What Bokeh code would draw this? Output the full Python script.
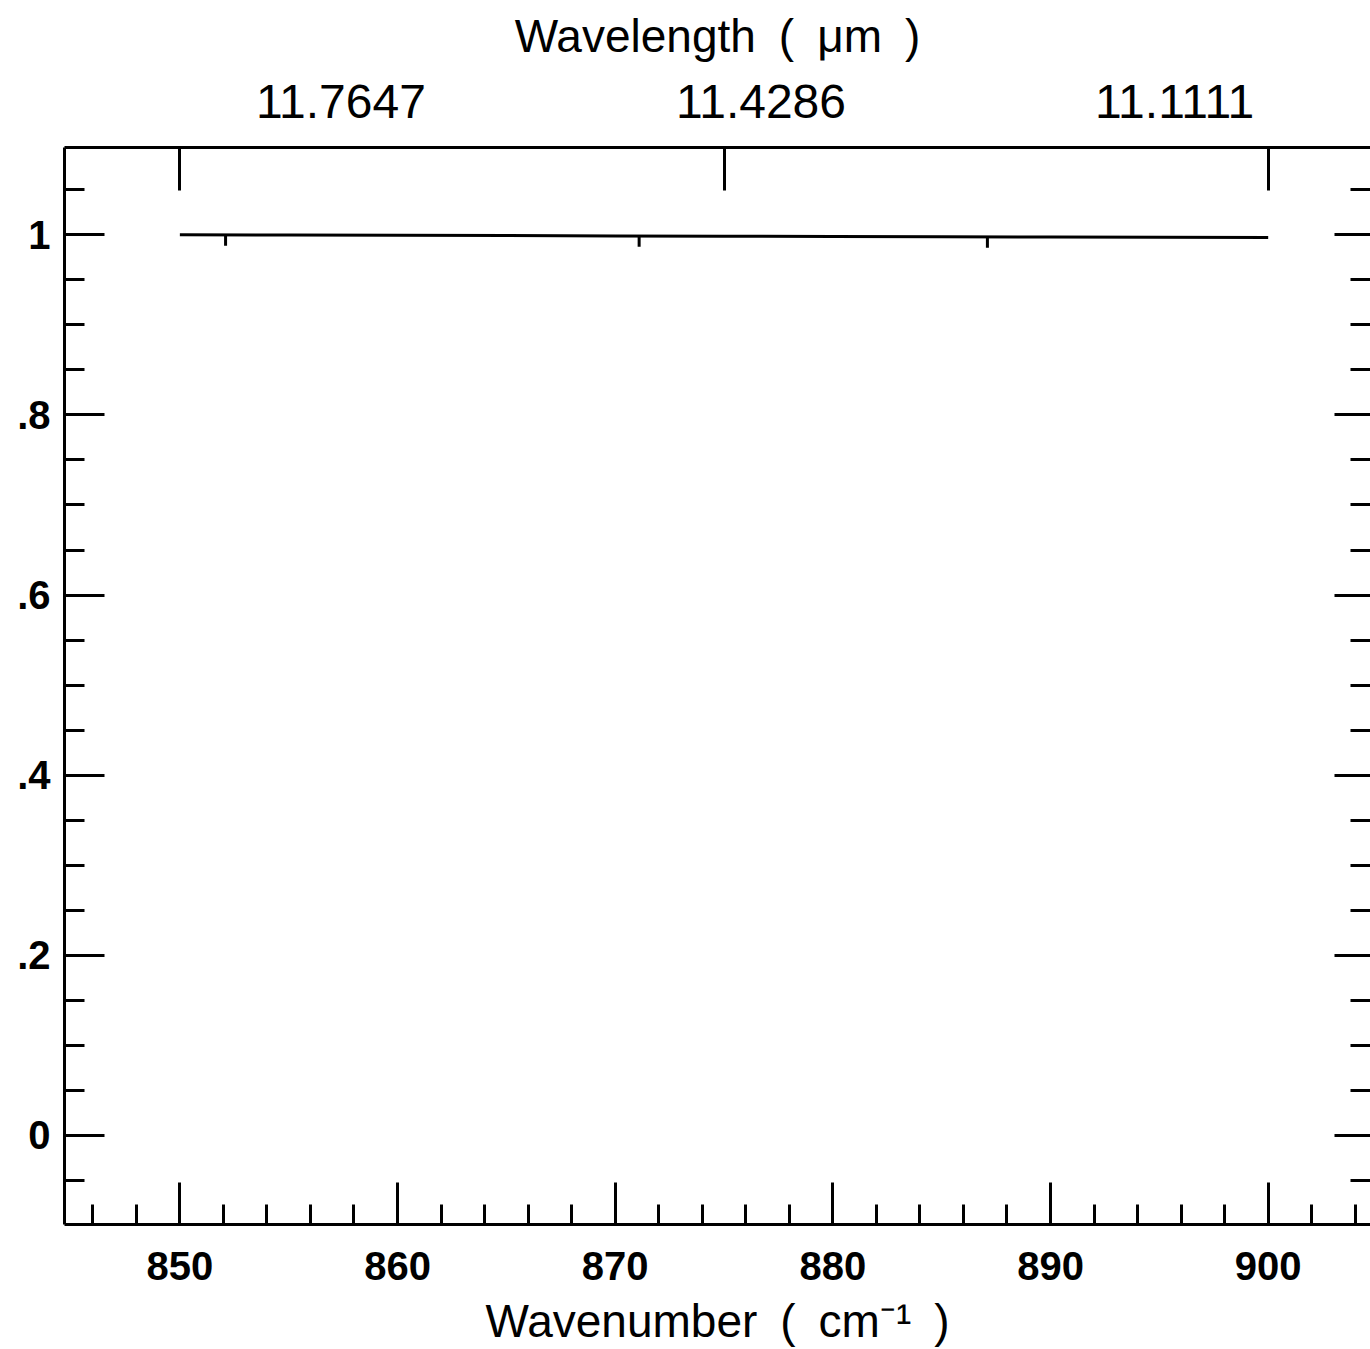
from bokeh.plotting import figure
from bokeh.models import LinearAxis, FixedTicker, Range1d
from bokeh.embed import file_html
from bokeh.resources import INLINE

# ---- data ----
wavenumber = [850, 855, 860, 865, 870, 875, 880, 885, 890, 895, 900]
signal = [1.000, 0.9998, 0.9995, 0.9992, 0.9988, 0.9985, 0.9982, 0.9979, 0.9976, 0.9973, 0.9970]
mark_x = [852.1, 871.1, 887.1]          # small hanging marks on the curve
mark_y = [0.9999, 0.9987, 0.9978]

x_major = [850, 860, 870, 880, 890, 900]
x_minor = [846, 848, 850, 852, 854, 856, 858, 860, 862, 864, 866, 868, 870, 872, 874,
           876, 878, 880, 882, 884, 886, 888, 890, 892, 894, 896, 898, 900, 902, 904]
y_major = [0, 0.2, 0.4, 0.6, 0.8, 1.0]
y_major_labels = ["0", ".2", ".4", ".6", ".8", "1"]
y_minor = [-0.05, 0, 0.05, 0.1, 0.15, 0.2, 0.25, 0.3, 0.35, 0.4, 0.45, 0.5, 0.55, 0.6,
           0.65, 0.7, 0.75, 0.8, 0.85, 0.9, 0.95, 1.0, 1.05]
top_tick_wavenumbers = [850, 875, 900]
top_label_positions = [857.4, 876.7, 895.7]
top_labels = ["11.7647", "11.4286", "11.1111"]

FONT = "Liberation Sans"
LW = 3
SP = "\u2002"

p = figure(width=1370, height=1349,
           x_range=Range1d(844.7, 904.7), y_range=Range1d(-0.099, 1.097),
           output_backend="svg", toolbar_location=None,
           x_axis_location=None, y_axis_location=None,
           min_border_left=64, min_border_right=0, min_border_top=147, min_border_bottom=10)
p.outline_line_color = None
p.grid.visible = False
p.background_fill_color = "white"
p.border_fill_color = "white"

# bottom axis
xb = LinearAxis(ticker=FixedTicker(ticks=x_major, minor_ticks=x_minor),
                major_tick_in=42, major_tick_out=0, minor_tick_in=20, minor_tick_out=0,
                axis_line_width=LW, major_tick_line_width=LW, minor_tick_line_width=LW,
                major_label_text_font=FONT, major_label_text_font_size="40px",
                major_label_text_font_style="bold", major_label_text_color="black",
                major_label_standoff=27,
                axis_label="Wavenumber" + SP + "(" + SP + "cm\u207b\u00b9" + SP + ")",
                axis_label_text_font=FONT, axis_label_text_color="black",
                axis_label_text_font_size="46px", axis_label_text_font_style="normal",
                axis_label_standoff=12)
p.add_layout(xb, "below")

# left axis
yl = LinearAxis(ticker=FixedTicker(ticks=y_major, minor_ticks=y_minor),
                major_tick_in=40, major_tick_out=0, minor_tick_in=20, minor_tick_out=0,
                axis_line_width=LW, major_tick_line_width=LW, minor_tick_line_width=LW,
                major_label_text_font=FONT, major_label_text_font_size="40px",
                major_label_text_font_style="bold", major_label_text_color="black",
                major_label_standoff=14,
                major_label_overrides={v: s for v, s in zip(y_major, y_major_labels)})
p.add_layout(yl, "left")

# right side: tick marks only (drawn as minor ticks so no labels exist)
yr_minor = LinearAxis(ticker=FixedTicker(ticks=[], minor_ticks=y_minor),
                      major_tick_in=0, major_tick_out=0, minor_tick_in=20, minor_tick_out=0,
                      axis_line_color=None, minor_tick_line_width=LW, major_label_standoff=0)
p.add_layout(yr_minor, "right")
yr_major = LinearAxis(ticker=FixedTicker(ticks=[], minor_ticks=y_major),
                      major_tick_in=0, major_tick_out=0, minor_tick_in=36, minor_tick_out=0,
                      axis_line_color=None, minor_tick_line_width=LW, major_label_standoff=0)
p.add_layout(yr_major, "right")

# top axis: wavelength tick marks (as minor ticks, no labels)
xt = LinearAxis(ticker=FixedTicker(ticks=[], minor_ticks=top_tick_wavenumbers),
                major_tick_in=0, major_tick_out=0, minor_tick_in=43, minor_tick_out=0,
                axis_line_width=LW, minor_tick_line_width=LW, major_label_standoff=0)
p.add_layout(xt, "above")

# top axis: wavelength labels
xt2 = LinearAxis(ticker=FixedTicker(ticks=top_label_positions, minor_ticks=[]),
                 major_tick_in=0, major_tick_out=0, minor_tick_in=0, minor_tick_out=0,
                 axis_line_color=None, major_tick_line_color=None,
                 major_label_text_font=FONT, major_label_text_font_size="48px",
                 major_label_text_color="black", major_label_standoff=30,
                 major_label_overrides={v: s for v, s in zip(top_label_positions, top_labels)},
                 axis_label="Wavelength" + SP + "(" + SP + "\u03bcm" + SP + ")",
                 axis_label_text_font=FONT, axis_label_text_color="black",
                 axis_label_text_font_size="46px", axis_label_text_font_style="normal",
                 axis_label_standoff=20)
p.add_layout(xt2, "above")

# curve
p.line(wavenumber, signal, line_color="black", line_width=LW)
p.segment(x0=mark_x, y0=mark_y, x1=mark_x, y1=[v - 0.012 for v in mark_y],
          line_color="black", line_width=LW)

open("out.html", "w").write(file_html(p, INLINE))
